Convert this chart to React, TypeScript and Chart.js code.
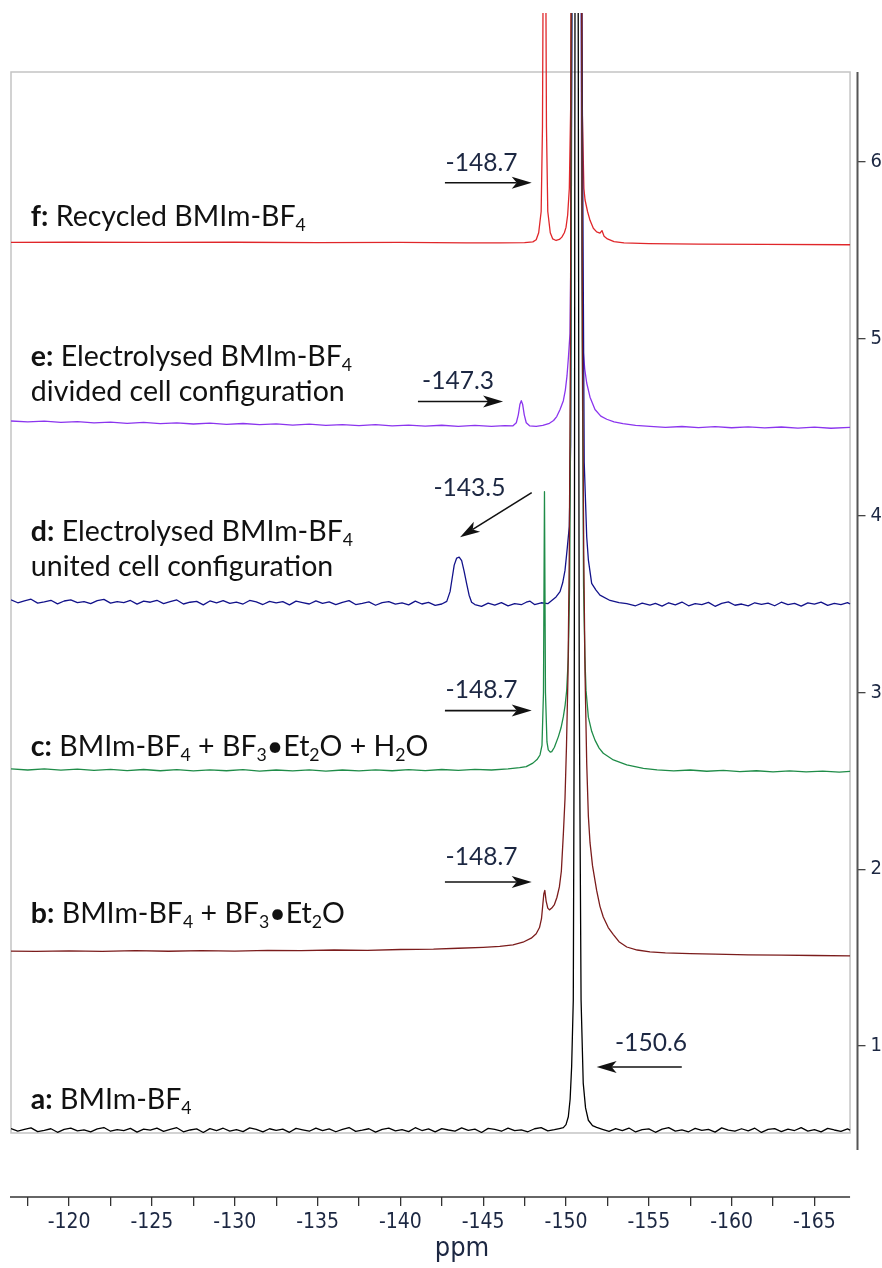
import React, { useEffect, useRef } from 'react';
import { Chart, registerables } from 'chart.js';

Chart.register(...registerables);

type Pt = [number, number];

// ---------- spectra (ppm, stacked intensity) ----------
const traceA: Pt[] = [
  [-116.49, 0.533], [-116.9, 0.519], [-117.3, 0.528], [-117.7, 0.537], [-118.1, 0.516], [-118.5, 0.523],
  [-118.9, 0.532], [-119.3, 0.512], [-119.7, 0.529], [-120.1, 0.535], [-120.5, 0.52], [-120.9, 0.526],
  [-121.3, 0.514], [-121.7, 0.531], [-122.1, 0.539], [-122.5, 0.518], [-122.9, 0.527], [-123.3, 0.521],
  [-123.7, 0.534], [-124.1, 0.513], [-124.5, 0.53], [-124.9, 0.524], [-125.3, 0.536], [-125.7, 0.517],
  [-126.1, 0.528], [-126.5, 0.538], [-126.9, 0.515], [-127.3, 0.525], [-127.7, 0.531], [-128.1, 0.511],
  [-128.5, 0.533], [-128.9, 0.522], [-129.3, 0.535], [-129.7, 0.519], [-130.1, 0.527], [-130.5, 0.516],
  [-130.9, 0.537], [-131.3, 0.529], [-131.7, 0.514], [-132.1, 0.532], [-132.5, 0.523], [-132.9, 0.53],
  [-133.3, 0.512], [-133.7, 0.534], [-134.1, 0.526], [-134.5, 0.518], [-134.9, 0.536], [-135.3, 0.521],
  [-135.7, 0.531], [-136.1, 0.515], [-136.5, 0.528], [-136.9, 0.539], [-137.3, 0.517], [-137.7, 0.524],
  [-138.1, 0.532], [-138.5, 0.513], [-138.9, 0.529], [-139.3, 0.535], [-139.7, 0.52], [-140.1, 0.527],
  [-140.5, 0.516], [-140.9, 0.538], [-141.3, 0.522], [-141.7, 0.531], [-142.1, 0.514], [-142.5, 0.533],
  [-142.9, 0.525], [-143.3, 0.519], [-143.7, 0.537], [-144.1, 0.523], [-144.5, 0.53], [-144.9, 0.511],
  [-145.3, 0.534], [-145.7, 0.528], [-146.1, 0.518], [-146.5, 0.536], [-146.9, 0.521], [-147.3, 0.526],
  [-147.7, 0.515], [-148.1, 0.532], [-148.5, 0.538], [-148.9, 0.52], [-149.3, 0.527], [-149.6, 0.533],
  [-149.84, 0.538], [-150.0, 0.555], [-150.14, 0.6], [-150.25, 0.7], [-150.34, 0.883], [-150.44, 1.26],
  [-150.5, 3.0], [-150.62, 14], [-150.8, 3.0], [-150.91, 1.26], [-151.04, 0.79], [-151.18, 0.65],
  [-151.35, 0.58], [-151.6, 0.55], [-151.85, 0.54], [-152.2, 0.529], [-152.6, 0.517], [-153.0, 0.533],
  [-153.4, 0.522], [-153.8, 0.536], [-154.2, 0.514], [-154.6, 0.527], [-155.0, 0.531], [-155.4, 0.512],
  [-155.8, 0.53], [-156.2, 0.538], [-156.6, 0.519], [-157.0, 0.526], [-157.4, 0.515], [-157.8, 0.534],
  [-158.2, 0.523], [-158.6, 0.529], [-159.0, 0.513], [-159.4, 0.537], [-159.8, 0.524], [-160.2, 0.518],
  [-160.6, 0.532], [-161.0, 0.52], [-161.4, 0.535], [-161.8, 0.511], [-162.2, 0.528], [-162.6, 0.533],
  [-163.0, 0.516], [-163.4, 0.53], [-163.8, 0.522], [-164.2, 0.538], [-164.6, 0.519], [-165.0, 0.527],
  [-165.4, 0.514], [-165.8, 0.534], [-166.2, 0.525], [-166.6, 0.517], [-167.0, 0.531], [-167.15, 0.524],
];

const traceB: Pt[] = [
  [-116.49, 1.537], [-118, 1.535], [-120, 1.538], [-122, 1.535], [-124, 1.539], [-126, 1.536],
  [-128, 1.54], [-130, 1.537], [-132, 1.541], [-134, 1.539], [-136, 1.543], [-138, 1.541],
  [-140, 1.546], [-142, 1.548], [-143.5, 1.553], [-145, 1.558], [-146, 1.563], [-146.8, 1.572],
  [-147.4, 1.587], [-147.9, 1.61], [-148.2, 1.635], [-148.4, 1.67], [-148.52, 1.72], [-148.6, 1.8],
  [-148.66, 1.86], [-148.72, 1.88], [-148.8, 1.82], [-148.9, 1.78], [-149.0, 1.77], [-149.14, 1.78],
  [-149.3, 1.8], [-149.45, 1.84], [-149.6, 1.9], [-149.72, 1.99], [-149.84, 2.2], [-149.94, 2.4],
  [-150.03, 2.7], [-150.12, 3.1], [-150.2, 3.8], [-150.27, 5.0], [-150.34, 8.0], [-150.62, 14],
  [-150.92, 8.0], [-150.99, 5.0], [-151.07, 3.8], [-151.15, 3.1], [-151.25, 2.6], [-151.35, 2.3],
  [-151.45, 2.15], [-151.6, 2.02], [-151.85, 1.88], [-152.05, 1.79], [-152.25, 1.73], [-152.55, 1.67],
  [-152.86, 1.63], [-153.2, 1.59], [-153.67, 1.56], [-154.3, 1.543], [-155.07, 1.533], [-156, 1.527],
  [-157.5, 1.522], [-159, 1.52], [-161, 1.516], [-163, 1.514], [-165, 1.512], [-167.15, 1.51],
];

const traceC: Pt[] = [
  [-116.49, 2.567], [-117.5, 2.561], [-118.5, 2.568], [-119.5, 2.56], [-120.5, 2.566], [-121.5, 2.559],
  [-122.5, 2.565], [-123.5, 2.558], [-124.5, 2.564], [-125.5, 2.557], [-126.5, 2.563], [-127.5, 2.556],
  [-128.5, 2.562], [-129.5, 2.557], [-130.5, 2.563], [-131.5, 2.555], [-132.5, 2.561], [-133.5, 2.556],
  [-134.5, 2.562], [-135.5, 2.555], [-136.5, 2.561], [-137.5, 2.556], [-138.5, 2.562], [-139.5, 2.557],
  [-140.5, 2.563], [-141.5, 2.558], [-142.5, 2.564], [-143.5, 2.559], [-144.5, 2.565], [-145.5, 2.561],
  [-146.5, 2.568], [-147.2, 2.575], [-147.6, 2.58], [-148.0, 2.6], [-148.25, 2.62], [-148.43, 2.646],
  [-148.55, 2.7], [-148.64, 3.0], [-148.7, 4.135], [-148.76, 3.0], [-148.85, 2.72], [-148.93, 2.675],
  [-149.05, 2.662], [-149.14, 2.665], [-149.3, 2.69], [-149.54, 2.75], [-149.7, 2.8], [-149.84, 2.863],
  [-149.95, 2.93], [-150.04, 3.01], [-150.14, 3.2], [-150.22, 3.6], [-150.3, 5.0], [-150.36, 8.0],
  [-150.62, 14], [-150.9, 8.0], [-150.98, 5.0], [-151.06, 3.6], [-151.14, 3.2], [-151.21, 3.01],
  [-151.35, 2.86], [-151.55, 2.78], [-151.75, 2.73], [-152.0, 2.685], [-152.25, 2.656], [-152.86, 2.618],
  [-153.67, 2.59], [-154.67, 2.57], [-155.5, 2.562], [-156.5, 2.556], [-157.5, 2.561], [-158.5, 2.554],
  [-159.5, 2.559], [-160.5, 2.552], [-161.5, 2.557], [-162.5, 2.551], [-163.5, 2.556], [-164.5, 2.55],
  [-165.5, 2.555], [-166.5, 2.549], [-167.15, 2.553],
];

const traceD: Pt[] = [
  [-116.49, 3.524], [-116.9, 3.507], [-117.3, 3.518], [-117.7, 3.527], [-118.1, 3.505], [-118.5, 3.512],
  [-118.9, 3.521], [-119.3, 3.501], [-119.7, 3.517], [-120.1, 3.523], [-120.5, 3.508], [-120.9, 3.514],
  [-121.3, 3.502], [-121.7, 3.519], [-122.1, 3.526], [-122.5, 3.505], [-122.9, 3.514], [-123.3, 3.508],
  [-123.7, 3.52], [-124.1, 3.499], [-124.5, 3.516], [-124.9, 3.51], [-125.3, 3.521], [-125.7, 3.502],
  [-126.1, 3.513], [-126.5, 3.523], [-126.9, 3.5], [-127.3, 3.51], [-127.7, 3.515], [-128.1, 3.495],
  [-128.5, 3.517], [-128.9, 3.506], [-129.3, 3.519], [-129.7, 3.503], [-130.1, 3.511], [-130.5, 3.5],
  [-130.9, 3.52], [-131.3, 3.512], [-131.7, 3.497], [-132.1, 3.515], [-132.5, 3.506], [-132.9, 3.513],
  [-133.3, 3.495], [-133.7, 3.516], [-134.1, 3.508], [-134.5, 3.5], [-134.9, 3.518], [-135.3, 3.503],
  [-135.7, 3.512], [-136.1, 3.496], [-136.5, 3.509], [-136.9, 3.519], [-137.3, 3.497], [-137.7, 3.504],
  [-138.1, 3.512], [-138.5, 3.493], [-138.9, 3.508], [-139.3, 3.514], [-139.7, 3.499], [-140.1, 3.506],
  [-140.5, 3.495], [-140.9, 3.516], [-141.3, 3.5], [-141.7, 3.509], [-142.1, 3.492], [-142.5, 3.5],
  [-142.8, 3.515], [-143.0, 3.57], [-143.1, 3.63], [-143.25, 3.72], [-143.4, 3.76], [-143.55, 3.765],
  [-143.7, 3.745], [-143.85, 3.685], [-144.0, 3.615], [-144.15, 3.55], [-144.3, 3.51], [-144.5, 3.497],
  [-144.9, 3.487], [-145.3, 3.505], [-145.7, 3.494], [-146.1, 3.508], [-146.5, 3.489], [-146.9, 3.502],
  [-147.3, 3.496], [-147.6, 3.51], [-147.83, 3.516], [-148.1, 3.497], [-148.5, 3.507], [-148.9, 3.502],
  [-149.14, 3.52], [-149.4, 3.54], [-149.64, 3.57], [-149.8, 3.62], [-149.94, 3.69], [-150.08, 3.82],
  [-150.2, 3.94], [-150.28, 4.4], [-150.36, 7.0], [-150.62, 14], [-150.95, 7.0], [-151.1, 4.3],
  [-151.25, 3.88], [-151.35, 3.75], [-151.55, 3.617], [-151.8, 3.58], [-152.05, 3.55], [-152.66, 3.52],
  [-153.2, 3.508], [-153.67, 3.502], [-154.2, 3.49], [-154.6, 3.505], [-155.07, 3.494], [-155.4, 3.503],
  [-155.8, 3.488], [-156.2, 3.507], [-156.6, 3.495], [-157.0, 3.511], [-157.4, 3.49], [-157.8, 3.502],
  [-158.2, 3.497], [-158.6, 3.509], [-159.0, 3.487], [-159.4, 3.504], [-159.8, 3.512], [-160.2, 3.493],
  [-160.6, 3.5], [-161.0, 3.489], [-161.4, 3.507], [-161.8, 3.498], [-162.2, 3.505], [-162.6, 3.49],
  [-163.0, 3.51], [-163.4, 3.496], [-163.8, 3.503], [-164.2, 3.488], [-164.6, 3.506], [-165.0, 3.499],
  [-165.4, 3.511], [-165.8, 3.492], [-166.2, 3.504], [-166.6, 3.497], [-167.0, 3.508], [-167.15, 3.5],
];

const traceE: Pt[] = [
  [-116.49, 4.535], [-117.5, 4.53], [-118.5, 4.534], [-119.5, 4.527], [-120.5, 4.531], [-121.5, 4.524],
  [-122.5, 4.529], [-123.5, 4.522], [-124.5, 4.527], [-125.5, 4.52], [-126.5, 4.525], [-127.5, 4.518],
  [-128.5, 4.523], [-129.5, 4.516], [-130.5, 4.521], [-131.5, 4.514], [-132.5, 4.519], [-133.5, 4.512],
  [-134.5, 4.517], [-135.5, 4.51], [-136.5, 4.515], [-137.5, 4.509], [-138.5, 4.514], [-139.5, 4.507],
  [-140.5, 4.512], [-141.5, 4.506], [-142.5, 4.511], [-143.5, 4.505], [-144.5, 4.51], [-145.5, 4.505],
  [-146.3, 4.509], [-146.8, 4.508], [-147.0, 4.525], [-147.12, 4.57], [-147.22, 4.63], [-147.3, 4.65],
  [-147.38, 4.63], [-147.48, 4.57], [-147.6, 4.525], [-147.8, 4.508], [-148.2, 4.505], [-148.6, 4.51],
  [-149.0, 4.522], [-149.25, 4.538], [-149.44, 4.56], [-149.64, 4.6], [-149.84, 4.65], [-149.96, 4.71],
  [-150.06, 4.79], [-150.15, 4.9], [-150.24, 5.03], [-150.31, 5.6], [-150.37, 8.0], [-150.62, 14],
  [-150.88, 8.0], [-150.95, 5.5], [-151.03, 4.94], [-151.13, 4.83], [-151.25, 4.75], [-151.45, 4.67],
  [-151.75, 4.6], [-152.1, 4.563], [-152.46, 4.545], [-152.9, 4.53], [-153.44, 4.52], [-154.2, 4.51],
  [-155.07, 4.505], [-156, 4.499], [-157, 4.504], [-158, 4.498], [-159, 4.503], [-160, 4.497],
  [-161, 4.502], [-162, 4.496], [-163, 4.501], [-164, 4.495], [-165, 4.5], [-166, 4.494], [-167.15, 4.499],
];

const traceF: Pt[] = [
  [-116.49, 5.545], [-120, 5.546], [-125, 5.545], [-130, 5.546], [-135, 5.544], [-140, 5.545],
  [-144, 5.543], [-146, 5.542], [-147.5, 5.544], [-148.0, 5.548], [-148.2, 5.56], [-148.35, 5.6],
  [-148.5, 5.72], [-148.58, 6.2], [-148.64, 7.5], [-148.7, 9.0], [-148.76, 7.5], [-148.82, 6.2],
  [-148.9, 5.72], [-149.05, 5.6], [-149.2, 5.565], [-149.4, 5.556], [-149.6, 5.562], [-149.75, 5.575],
  [-149.9, 5.6], [-150.0, 5.63], [-150.1, 5.7], [-150.2, 5.85], [-150.28, 6.3], [-150.36, 8.0],
  [-150.62, 14], [-150.9, 8.0], [-150.98, 6.3], [-151.08, 5.85], [-151.15, 5.785], [-151.3, 5.72],
  [-151.45, 5.67], [-151.65, 5.625], [-151.85, 5.605], [-152.05, 5.598], [-152.17, 5.612], [-152.3, 5.58],
  [-152.5, 5.565], [-152.9, 5.55], [-153.5, 5.542], [-155, 5.538], [-158, 5.536], [-162, 5.534],
  [-167.15, 5.532],
];

const traces: Pt[][] = [traceA, traceB, traceC, traceD, traceE, traceF];
const traceColors = ['#000000', '#7b1c1c', '#1f8c48', '#12128a', '#8b35ee', '#e0262a'];

// ---------- axes ----------
const xTickValues = [
  -117.5, -120, -122.5, -125, -127.5, -130, -132.5, -135, -137.5, -140,
  -142.5, -145, -147.5, -150, -152.5, -155, -157.5, -160, -162.5, -165,
];
const yTickValues = [1, 2, 3, 4, 5, 6];
const xTitle = 'ppm';

// ---------- sample labels ----------
type Part = { t: string; b?: boolean; s?: boolean };
const sampleLabels: Part[][][] = [
  [[{ t: 'a:', b: true }, { t: ' BMIm-BF' }, { t: '4', s: true }]],
  [[{ t: 'b:', b: true }, { t: ' BMIm-BF' }, { t: '4', s: true }, { t: ' + BF' }, { t: '3', s: true }, { t: '•Et' }, { t: '2', s: true }, { t: 'O' }]],
  [[{ t: 'c:', b: true }, { t: ' BMIm-BF' }, { t: '4', s: true }, { t: ' + BF' }, { t: '3', s: true }, { t: '•Et' }, { t: '2', s: true }, { t: 'O + H' }, { t: '2', s: true }, { t: 'O' }]],
  [[{ t: 'd:', b: true }, { t: ' Electrolysed BMIm-BF' }, { t: '4', s: true }], [{ t: 'united cell configuration' }]],
  [[{ t: 'e:', b: true }, { t: ' Electrolysed BMIm-BF' }, { t: '4', s: true }], [{ t: 'divided cell configuration' }]],
  [[{ t: 'f:', b: true }, { t: ' Recycled BMIm-BF' }, { t: '4', s: true }]],
];
// anchor (ppm, value) of the first line's left/middle
const sampleLabelAnchors: Pt[] = [
  [-117.69, 0.695], [-117.69, 1.747], [-117.69, 2.691], [-117.69, 3.907], [-117.69, 4.897], [-117.69, 5.689],
];

// ---------- peak annotations ----------
const peakTexts = ['-150.6', '-148.7', '-148.7', '-143.5', '-147.3', '-148.7'];
const peakTextAt: Pt[] = [
  [-155.13, 1.017], [-144.9, 2.069], [-144.9, 3.014], [-144.17, 4.156], [-143.48, 4.761], [-144.9, 5.994],
];
const arrowFrom: Pt[] = [
  [-156.99, 0.881], [-142.69, 1.928], [-142.69, 2.897], [-147.93, 4.13], [-141.06, 4.645], [-142.69, 5.883],
];
const arrowTo: Pt[] = [
  [-151.85, 0.881], [-147.93, 1.928], [-147.93, 2.897], [-143.6, 3.877], [-146.2, 4.645], [-147.93, 5.883],
];

const LABEL_FAMILY = 'Lato, "Open Sans", sans-serif';
const AXIS_FAMILY = '"Liberation Sans Narrow", "DejaVu Sans Condensed", Roboto, sans-serif';
const TEXT_COLOR = '#1c2742';

function drawArrow(ctx: CanvasRenderingContext2D, x1: number, y1: number, x2: number, y2: number) {
  const ang = Math.atan2(y2 - y1, x2 - x1);
  const L = 20, W = 6, N = 15;
  const cos = Math.cos(ang), sin = Math.sin(ang);
  ctx.save();
  ctx.strokeStyle = '#111';
  ctx.fillStyle = '#111';
  ctx.lineWidth = 1.6;
  ctx.beginPath();
  ctx.moveTo(x1, y1);
  ctx.lineTo(x2 - cos * N, y2 - sin * N);
  ctx.stroke();
  ctx.beginPath();
  ctx.moveTo(x2, y2);
  ctx.lineTo(x2 - cos * L - sin * W, y2 - sin * L + cos * W);
  ctx.lineTo(x2 - cos * N, y2 - sin * N);
  ctx.lineTo(x2 - cos * L + sin * W, y2 - sin * L - cos * W);
  ctx.closePath();
  ctx.fill();
  ctx.restore();
}

function fitSize(ctx: CanvasRenderingContext2D, text: string, family: string, target: number, weight = '') {
  ctx.font = `${weight}100px ${family}`;
  const w = ctx.measureText(text).width;
  return (100 * target) / w;
}

const overlay = {
  id: 'overlay',
  beforeDatasetsDraw(chart: any) {
    const { ctx, chartArea, scales } = chart;
    const right = scales.x.getPixelForValue(-167.15);
    const bottom = scales.y.getPixelForValue(0.508);
    ctx.save();
    ctx.strokeStyle = '#c4c4c4';
    ctx.lineWidth = 1.5;
    ctx.strokeRect(chartArea.left, chartArea.top, right - chartArea.left, bottom - chartArea.top);
    ctx.restore();
  },
  afterDraw(chart: any) {
    const { ctx, chartArea, scales } = chart;
    const xs = scales.x, ys = scales.y;
    ctx.save();
    // axis lines
    ctx.strokeStyle = '#333';
    ctx.lineWidth = 1.6;
    ctx.beginPath();
    ctx.moveTo(chartArea.left - 1, chartArea.bottom);
    ctx.lineTo(xs.getPixelForValue(-167.15), chartArea.bottom);
    ctx.stroke();
    ctx.strokeStyle = '#555';
    ctx.lineWidth = 2;
    ctx.beginPath();
    ctx.moveTo(chartArea.right, chartArea.top);
    ctx.lineTo(chartArea.right, ys.getPixelForValue(0.412));
    ctx.stroke();

    // x title
    ctx.fillStyle = TEXT_COLOR;
    ctx.font = `27px ${AXIS_FAMILY}`;
    ctx.textAlign = 'center';
    ctx.textBaseline = 'middle';
    ctx.fillText(xTitle, 462, 1249);

    // sample labels
    const size = fitSize(ctx, 'divided cell configuration', LABEL_FAMILY, 314);
    ctx.textAlign = 'left';
    ctx.fillStyle = '#111';
    sampleLabels.forEach((lines, i) => {
      const [p, v] = sampleLabelAnchors[i];
      const x0 = xs.getPixelForValue(p);
      const y0 = ys.getPixelForValue(v);
      lines.forEach((parts, li) => {
        let cx = x0;
        const cy = y0 + li * 35;
        parts.forEach((part) => {
          const fs = part.s ? size * 0.62 : size;
          ctx.font = `${part.b ? 'bold ' : ''}${fs}px ${LABEL_FAMILY}`;
          ctx.fillText(part.t, cx, cy + (part.s ? size * 0.3 : 0));
          cx += ctx.measureText(part.t).width;
        });
      });
    });

    // peak annotations
    const nsize = fitSize(ctx, '-148.7', LABEL_FAMILY, 72);
    ctx.font = `${nsize}px ${LABEL_FAMILY}`;
    ctx.textAlign = 'center';
    ctx.fillStyle = TEXT_COLOR;
    peakTexts.forEach((t, i) => {
      const [p, v] = peakTextAt[i];
      ctx.fillText(t, xs.getPixelForValue(p), ys.getPixelForValue(v));
      const [p1, v1] = arrowFrom[i];
      const [p2, v2] = arrowTo[i];
      drawArrow(ctx, xs.getPixelForValue(p1), ys.getPixelForValue(v1), xs.getPixelForValue(p2), ys.getPixelForValue(v2));
    });
    ctx.restore();
  },
};

export default function App() {
  const ref = useRef<HTMLCanvasElement | null>(null);
  useEffect(() => {
    if (!ref.current) return;
    const chart = new Chart(ref.current, {
      type: 'line',
      data: {
        datasets: traces.map((t, i) => ({
          data: t.map(([x, y]) => ({ x, y })),
          borderColor: traceColors[i],
          borderWidth: 1.3,
          pointRadius: 0,
          tension: 0,
          fill: false,
          borderJoinStyle: 'round',
          clip: { left: 0, top: 59, right: 0, bottom: 0 },
        })) as any,
      },
      options: {
        animation: false,
        responsive: false,
        maintainAspectRatio: false,
        parsing: false as any,
        layout: { padding: { left: 11, top: 72, right: 0, bottom: 0 } },
        plugins: { legend: { display: false }, tooltip: { enabled: false }, title: { display: false } },
        scales: {
          x: {
            type: 'linear',
            reverse: true,
            min: -167.6,
            max: -116.49,
            position: 'bottom',
            afterBuildTicks: (s: any) => { s.ticks = xTickValues.map((value) => ({ value })); },
            afterFit: (s: any) => { s.height = 71; },
            border: { display: false },
            grid: { drawOnChartArea: false, drawTicks: true, tickLength: 9, color: '#333', lineWidth: 1.3 },
            ticks: {
              autoSkip: false,
              maxRotation: 0,
              padding: 4,
              color: TEXT_COLOR,
              font: { family: AXIS_FAMILY, size: 21 },
              callback: (v: any) => (Number(v) % 5 === 0 ? String(v) : ''),
            },
          },
          y: {
            type: 'linear',
            position: 'right',
            min: 0.146,
            max: 6.509,
            afterBuildTicks: (s: any) => { s.ticks = yTickValues.map((value) => ({ value })); },
            afterFit: (s: any) => { s.width = 24.5; },
            border: { display: false },
            grid: { drawOnChartArea: false, drawTicks: true, tickLength: 8, color: '#444', lineWidth: 1.3 },
            ticks: {
              padding: 5,
              color: TEXT_COLOR,
              font: { family: AXIS_FAMILY, size: 20 },
              callback: (v: any) => String(v),
            },
          },
        },
      },
      plugins: [overlay],
    });
    return () => chart.destroy();
  }, []);
  return (
    <div style={{ position: 'absolute', left: 0, top: 0, width: 882, height: 1268, background: '#fff' }}>
      <canvas ref={ref} width={882} height={1268} style={{ display: 'block', width: 882, height: 1268 }} />
    </div>
  );
}
